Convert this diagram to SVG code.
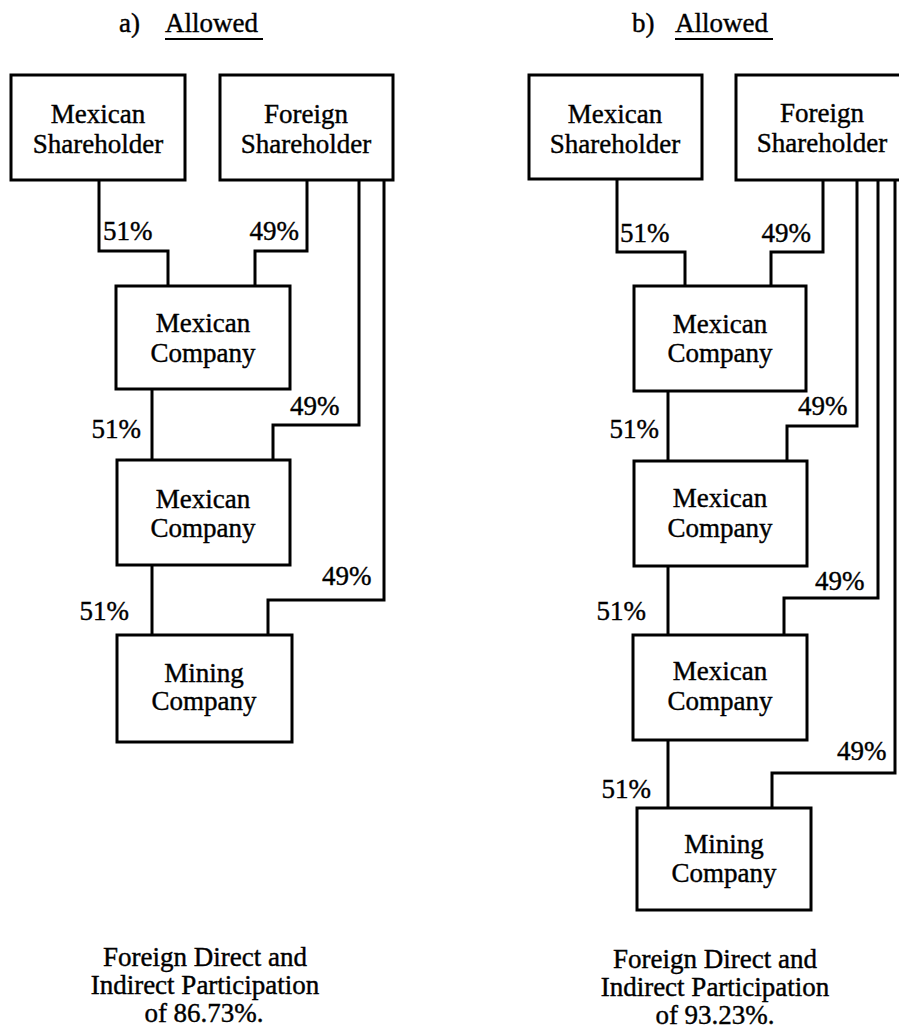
<svg xmlns="http://www.w3.org/2000/svg" width="899" height="1036" viewBox="0 0 899 1036">
<style>
  text { font-family: "Liberation Serif", "Times New Roman", serif; font-size: 27px; fill: #000; stroke: #000; stroke-width: 0.4px; }
  .c { text-anchor: middle; }
  .e { text-anchor: end; }
  .box { fill: #fff; stroke: #000; stroke-width: 3; }
  .ln { fill: none; stroke: #000; stroke-width: 3; stroke-linejoin: miter; }
  .ul { stroke: #000; stroke-width: 2; }
</style>
<rect width="899" height="1036" fill="#fff"/>

<g id="titles">
  <text x="119" y="32">a)</text>
  <text x="165" y="32">Allowed</text>
  <line class="ul" x1="165" y1="39" x2="263" y2="39"/>
  <text x="632" y="32">b)</text>
  <text x="675" y="32">Allowed</text>
  <line class="ul" x1="675" y1="39" x2="773" y2="39"/>
</g>

<g id="connectors">
  <!-- panel a -->
  <polyline class="ln" points="99,180 99,251 168,251 168,286"/>
  <polyline class="ln" points="307,180 307,251 255,251 255,286"/>
  <polyline class="ln" points="359,180 359,425 273,425 273,460"/>
  <polyline class="ln" points="384,180 384,600 268,600 268,635"/>
  <line class="ln" x1="152" y1="389" x2="152" y2="460"/>
  <line class="ln" x1="152" y1="565" x2="152" y2="635"/>
  <!-- panel b -->
  <polyline class="ln" points="617,179 617,252 685,252 685,286"/>
  <polyline class="ln" points="823,180 823,252 771,252 771,286"/>
  <polyline class="ln" points="857,180 857,426 787,426 787,461"/>
  <polyline class="ln" points="878,180 878,598 784,598 784,635"/>
  <polyline class="ln" points="895,180 895,773 772,773 772,808"/>
  <line class="ln" x1="668" y1="391" x2="668" y2="461"/>
  <line class="ln" x1="668" y1="566" x2="668" y2="635"/>
  <line class="ln" x1="668" y1="740" x2="668" y2="808"/>
</g>

<g id="labels">
  <text x="103" y="240">51%</text>
  <text class="e" x="299" y="240">49%</text>
  <text class="e" x="141" y="438">51%</text>
  <text x="290" y="415">49%</text>
  <text class="e" x="129" y="620">51%</text>
  <text x="322" y="585">49%</text>

  <text x="620" y="242">51%</text>
  <text class="e" x="811" y="242">49%</text>
  <text x="798" y="415">49%</text>
  <text class="e" x="659" y="438">51%</text>
  <text x="815" y="590">49%</text>
  <text class="e" x="646" y="620">51%</text>
  <text x="837" y="760">49%</text>
  <text class="e" x="651" y="798">51%</text>
</g>

<g id="a-mexican-shareholder">
  <rect class="box" x="11" y="75" width="174" height="105"/>
  <text class="c" x="98" y="123">Mexican</text>
  <text class="c" x="98" y="153">Shareholder</text>
</g>
<g id="a-foreign-shareholder">
  <rect class="box" x="220" y="75" width="173" height="105"/>
  <text class="c" x="306" y="123">Foreign</text>
  <text class="c" x="306" y="153">Shareholder</text>
</g>
<g id="a-mexican-company-1">
  <rect class="box" x="116" y="286" width="174" height="103"/>
  <text class="c" x="203" y="332">Mexican</text>
  <text class="c" x="203" y="362">Company</text>
</g>
<g id="a-mexican-company-2">
  <rect class="box" x="117" y="460" width="173" height="105"/>
  <text class="c" x="203" y="508">Mexican</text>
  <text class="c" x="203" y="537">Company</text>
</g>
<g id="a-mining-company">
  <rect class="box" x="117" y="635" width="175" height="107"/>
  <text class="c" x="204" y="682">Mining</text>
  <text class="c" x="204" y="710">Company</text>
</g>

<g id="b-mexican-shareholder">
  <rect class="box" x="529" y="75" width="173" height="104"/>
  <text class="c" x="615" y="123">Mexican</text>
  <text class="c" x="615" y="153">Shareholder</text>
</g>
<g id="b-foreign-shareholder">
  <rect class="box" x="736" y="75" width="174" height="105"/>
  <text class="c" x="822" y="122">Foreign</text>
  <text class="c" x="822" y="152">Shareholder</text>
</g>
<g id="b-mexican-company-1">
  <rect class="box" x="634" y="286" width="172" height="105"/>
  <text class="c" x="720" y="333">Mexican</text>
  <text class="c" x="720" y="362">Company</text>
</g>
<g id="b-mexican-company-2">
  <rect class="box" x="634" y="461" width="173" height="105"/>
  <text class="c" x="720" y="507">Mexican</text>
  <text class="c" x="720" y="537">Company</text>
</g>
<g id="b-mexican-company-3">
  <rect class="box" x="633" y="635" width="174" height="105"/>
  <text class="c" x="720" y="680">Mexican</text>
  <text class="c" x="720" y="710">Company</text>
</g>
<g id="b-mining-company">
  <rect class="box" x="637" y="808" width="174" height="102"/>
  <text class="c" x="724" y="853">Mining</text>
  <text class="c" x="724" y="882">Company</text>
</g>

<g id="captions">
  <text class="c" x="205" y="966">Foreign Direct and</text>
  <text class="c" x="205" y="994">Indirect Participation</text>
  <text class="c" x="204" y="1022">of 86.73%.</text>
  <text class="c" x="715" y="968">Foreign Direct and</text>
  <text class="c" x="715" y="996">Indirect Participation</text>
  <text class="c" x="715" y="1024">of 93.23%.</text>
</g>
</svg>
